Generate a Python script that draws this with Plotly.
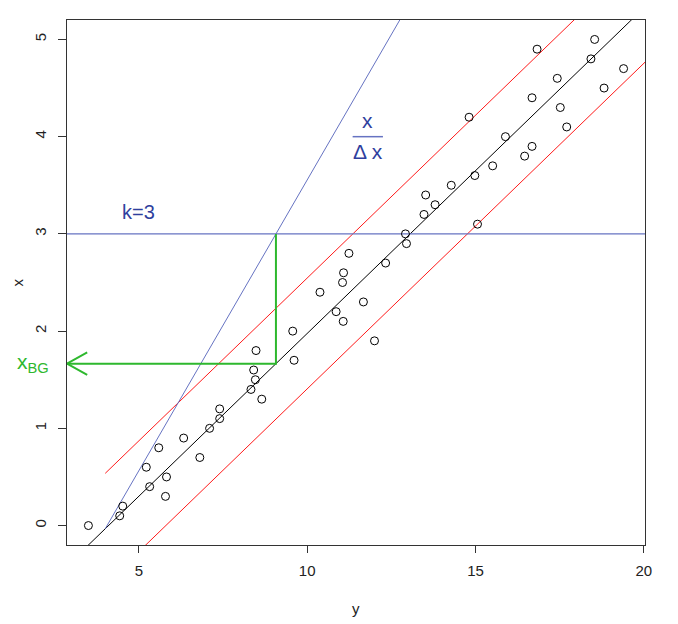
import plotly.graph_objects as go

# ---- data ----
conc = [0.0, 0.1, 0.2, 0.3, 0.4, 0.5, 0.6, 0.7, 0.8, 0.9,
        1.0, 1.1, 1.2, 1.3, 1.4, 1.5, 1.6, 1.7, 1.8, 1.9,
        2.0, 2.1, 2.2, 2.3, 2.4, 2.5, 2.6, 2.7, 2.8, 2.9,
        3.0, 3.1, 3.2, 3.3, 3.4, 3.5, 3.6, 3.7, 3.8, 3.9,
        4.0, 4.1, 4.2, 4.3, 4.4, 4.5, 4.6, 4.7, 4.8, 4.9, 5.0]
signal = [3.50, 4.43, 4.52, 5.79, 5.32, 5.82, 5.22, 6.81, 5.59, 6.33,
          7.10, 7.40, 7.40, 8.65, 8.33, 8.46, 8.41, 9.61, 8.48, 12.00,
          9.57, 11.07, 10.86, 11.67, 10.38, 11.05, 11.08, 12.33, 11.24, 12.95,
          12.92, 15.06, 13.47, 13.80, 13.52, 14.28, 14.98, 15.51, 16.46, 16.68,
          15.89, 17.71, 14.81, 17.52, 16.68, 18.82, 17.43, 19.40, 18.43, 16.83, 18.54]

x_ticks = [5, 10, 15, 20]
y_ticks = [0, 1, 2, 3, 4, 5]

# regression line x = a + b*y
reg_intercept = -1.372
reg_slope = 0.3348
band_offset = 0.57          # red prediction band half-width
band_start = 4.0            # red lines / blue line start at y = 4
blue_slope = 0.598          # slope of the x / dx line
k_level = 3.0               # horizontal k=3 line

x_range = [2.864, 20.036]
y_range = [-0.2, 5.2]

BLUE_LINE = "#6673c2"
BLUE_TEXT = "#2f3f9e"
GREEN = "#2eb82e"
RED = "#ff1a1a"

def reg(v):
    return reg_intercept + reg_slope * v

fig = go.Figure()

# black regression line
fig.add_trace(go.Scatter(x=[x_range[0], x_range[1]], y=[reg(x_range[0]), reg(x_range[1])],
                         mode="lines", line=dict(color="black", width=1), hoverinfo="skip"))
# red band lines
for s in (1, -1):
    xe = x_range[1]
    fig.add_trace(go.Scatter(x=[band_start, xe],
                             y=[reg(band_start) + s * band_offset, reg(xe) + s * band_offset],
                             mode="lines", line=dict(color=RED, width=1), hoverinfo="skip"))
# blue steep line
y0b = reg(band_start)
xe_b = band_start + (y_range[1] + 0.5 - y0b) / blue_slope
fig.add_trace(go.Scatter(x=[band_start, xe_b], y=[y0b, y0b + blue_slope * (xe_b - band_start)],
                         mode="lines", line=dict(color=BLUE_LINE, width=1), hoverinfo="skip"))
# blue horizontal k=3
fig.add_trace(go.Scatter(x=[x_range[0], x_range[1]], y=[k_level, k_level],
                         mode="lines", line=dict(color=BLUE_LINE, width=1.2), hoverinfo="skip"))

# green construction: intersection of blue with k line, down to regression, left to axis
x_k = band_start + (k_level - y0b) / blue_slope
x_bg = reg(x_k)
fig.add_trace(go.Scatter(x=[x_k, x_k, x_range[0]], y=[k_level, x_bg, x_bg],
                         mode="lines", line=dict(color=GREEN, width=2), hoverinfo="skip"))
# open arrow head
ah_dx = 0.6
ah_dy = 0.115
fig.add_trace(go.Scatter(x=[x_range[0] + ah_dx, x_range[0], x_range[0] + ah_dx],
                         y=[x_bg + ah_dy, x_bg, x_bg - ah_dy],
                         mode="lines", line=dict(color=GREEN, width=2), hoverinfo="skip",
                         cliponaxis=False))

# points
fig.add_trace(go.Scatter(x=signal, y=conc, mode="markers",
                         marker=dict(symbol="circle-open", size=8, color="black",
                                     line=dict(width=1, color="black")),
                         hoverinfo="skip"))

FONT = "Liberation Sans, Arial, sans-serif"

# fraction bar for x / dx
frac_x = 11.8
frac_y = 4.0
fig.add_shape(type="line", xref="x", yref="y", x0=frac_x - 0.45, x1=frac_x + 0.45,
              y0=frac_y, y1=frac_y, line=dict(color=BLUE_LINE, width=1.5))

annotations = [
    dict(x=frac_x, y=frac_y, xref="x", yref="y", text="x", showarrow=False,
         yshift=16, font=dict(family=FONT, size=21, color=BLUE_TEXT)),
    dict(x=frac_x, y=frac_y, xref="x", yref="y", text="Δ x", showarrow=False,
         yshift=-15, font=dict(family=FONT, size=21, color=BLUE_TEXT)),
    dict(x=5.0, y=3.23, xref="x", yref="y", text="k=3", showarrow=False,
         font=dict(family=FONT, size=20, color=BLUE_TEXT)),
    dict(x=-0.058, y=x_bg, xref="paper", yref="y", text="x<sub>BG</sub>", showarrow=False,
         xanchor="center", yanchor="middle",
         yshift=1, font=dict(family=FONT, size=21, color=GREEN)),
    dict(x=0.5, y=-0.121, xref="paper", yref="paper", text="y", showarrow=False,
         xanchor="center", yanchor="middle",
         font=dict(family=FONT, size=15, color="#222")),
    dict(x=-0.0865, y=0.5, xref="paper", yref="paper", text="x", showarrow=False,
         xanchor="center", yanchor="middle",
         textangle=-90, font=dict(family=FONT, size=15, color="#222")),
]

# page body has an 8px margin, so the figure is offset by 8px; size/margins compensate
fig.update_layout(
    width=670, height=616,
    margin=dict(l=59, r=33, t=12, b=79),
    paper_bgcolor="white", plot_bgcolor="white",
    showlegend=False,
    font=dict(family=FONT, size=15, color="#222"),
    annotations=annotations,
)
fig.update_xaxes(range=x_range, tickvals=x_ticks, ticks="outside", ticklen=7,
                 tickcolor="#333", showgrid=False, zeroline=False,
                 showline=True, linecolor="#333", linewidth=1, mirror=True,
                 ticklabelstandoff=5, tickfont=dict(size=15))
fig.update_yaxes(range=y_range, tickvals=y_ticks, ticks="outside", ticklen=8,
                 tickcolor="#333", showgrid=False, zeroline=False,
                 showline=True, linecolor="#333", linewidth=1, mirror=True,
                 tickangle=-90, ticklabelstandoff=6, tickfont=dict(size=15))

fig.write_html("out.html")
